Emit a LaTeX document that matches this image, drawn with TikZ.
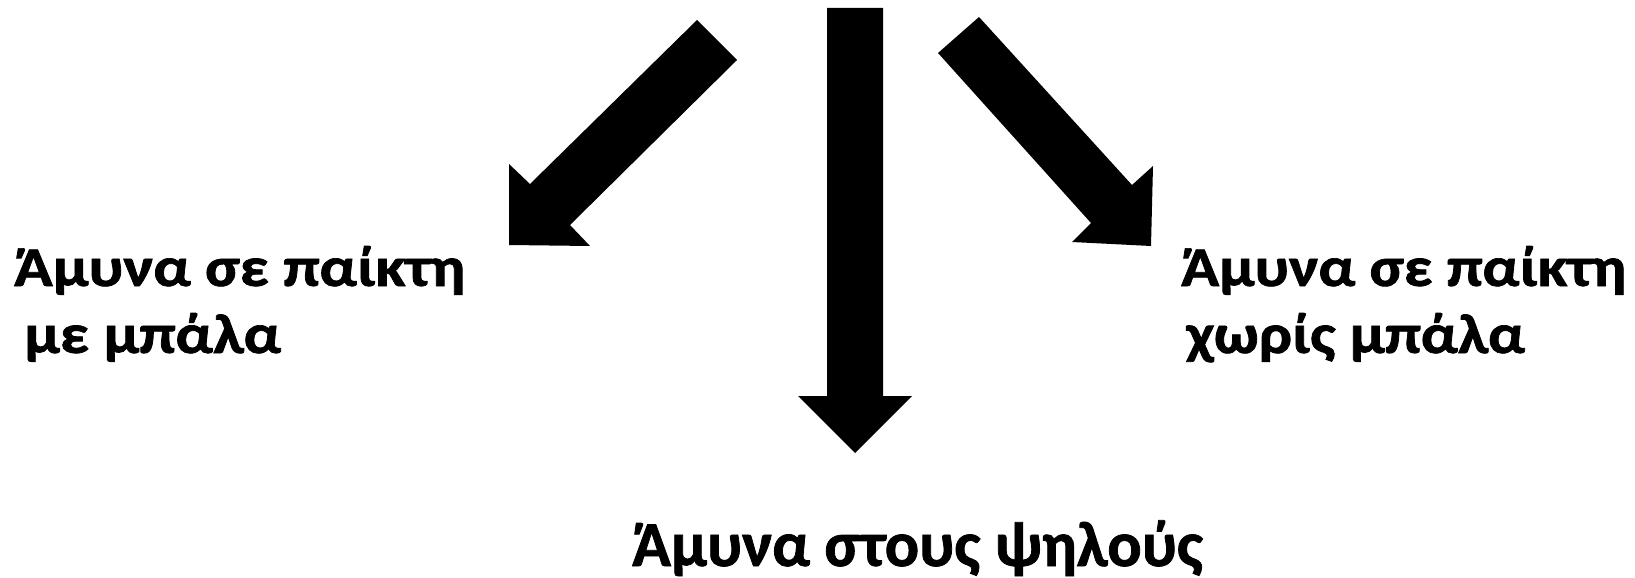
\documentclass[tikz,border=0pt]{standalone}
\usepackage{graphicx}
\usepackage{fontspec}
\setmainfont{Carlito}[BoldFeatures={FakeBold=1.2}]
\begin{document}
\begin{tikzpicture}[x=1pt,y=-1pt,
  lbl/.style={inner sep=0pt,anchor=base west,font=\fontsize{56}{68}\selectfont\bfseries},
  lblbig/.style={inner sep=0pt,anchor=base west,font=\fontsize{64}{78}\selectfont\bfseries},
  blk/.style={fill=black}]
\useasboundingbox (0,0) rectangle (1635,578);
% left arrow
\fill[blk] (697,20) -- (737,60) -- (570,225) -- (590,246) -- (509,245) -- (509,164) -- (530,184) -- cycle;
% centre arrow
\fill[blk] (827,8) -- (883,8) -- (883,396) -- (912,396) -- (855,453) -- (798,396) -- (827,396) -- cycle;
% right arrow
\fill[blk] (979,17) -- (1132,185) -- (1153,166) -- (1151,246) -- (1072,242) -- (1091,223) -- (938,53) -- cycle;
% labels
\node[lbl] (l1) at (14,286) {\scalebox{1.135}[1]{Άμυνα σε παίκτη}};
\node[lbl] (l2) at (24,353) {\scalebox{1.135}[1]{με μπάλα}};
\node[lbl] (r1) at (1181,286) {\scalebox{1.12}[1]{Άμυνα σε παίκτη}};
\node[lbl] (r2) at (1186,353) {\scalebox{1.12}[1]{χωρίς μπάλα}};
\node[lblbig] (b1) at (632,566) {Άμυνα στους ψηλούς};
\end{tikzpicture}
\end{document}
